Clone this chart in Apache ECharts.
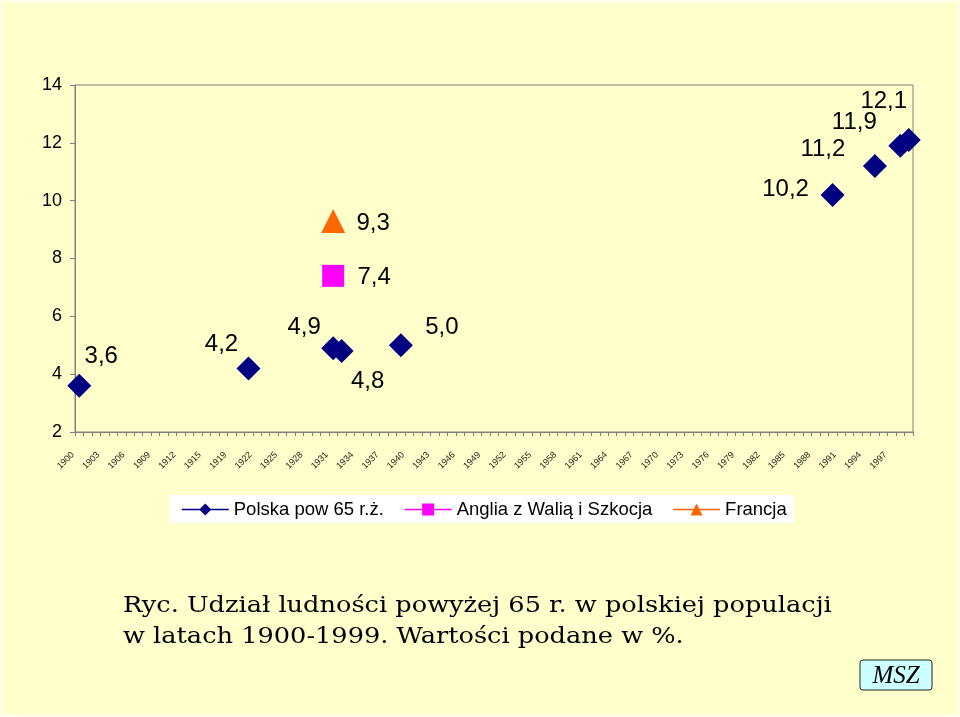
<!DOCTYPE html>
<html>
<head>
<meta charset="utf-8">
<script src="https://cdn.jsdelivr.net/npm/echarts@6/dist/echarts.min.js"></script>
<style>
html,body{margin:0;padding:0;background:#FFFFCC;}
#c{width:960px;height:717px;}
</style>
</head>
<body>
<div id="c"></div>
<script>
const years = ['1900','1901','1902','1903','1904','1905','1906','1907','1908','1909','1910','1911','1912','1913','1914','1915','1916','1917',
'1919','1920','1921','1922','1923','1924','1925','1926','1927','1928','1929','1930','1931','1932','1933','1934','1935','1936','1937','1938','1939',
'1940','1941','1942','1943','1944','1945','1946','1947','1948','1949','1950','1951','1952','1953','1954','1955','1956','1957','1958','1959',
'1960','1961','1962','1963','1964','1965','1966','1967','1968','1969','1970','1971','1972','1973','1974','1975','1976','1977','1978','1979',
'1980','1981','1982','1983','1984','1985','1986','1987','1988','1989','1990','1991','1992','1993','1994','1995','1996','1997','1998','1999'];
const yTicks = [2,4,6,8,10,12,14];

const polskaYears = ['1900','1921','1931','1932','1939','1990','1995','1998','1999'];
const polskaValues = [3.6,4.2,4.9,4.8,5.0,10.2,11.2,11.9,12.1];
const angliaYears = ['1931'];
const angliaValues = [7.4];
const franciaYears = ['1931'];
const franciaValues = [9.3];

// label offsets (style only)
const polskaLabelOffsets = [[22,-29],[-27,-24],[-29,-21],[26,30],[41,-18],[-47,-6],[-52,-17],[-46,-23],[-25,-39]];
const angliaLabelOffsets = [[41,2]];
const franciaLabelOffsets = [[40,2]];

const fmt = v => v.toFixed(1).replace('.', ',');
function mk(ys, vs, offs){
  return ys.map((y,i)=>({
    value:[y, vs[i]],
    label:{show:true, position:'inside', offset:offs[i], formatter: fmt(vs[i]),
      fontFamily:'"Liberation Sans", Arial', fontSize:24, color:'#000'}
  }));
}

const chart = echarts.init(document.getElementById('c'), null, {renderer:'canvas'});
chart.setOption({
  backgroundColor:'#FFFFCC',
  animation:false,
  grid:{left:75, right:47, top:85, bottom:285, show:true, borderColor:'#808080', borderWidth:1, backgroundColor:'#FFFFCC'},
  xAxis:{
    type:'category', data:years, boundaryGap:true,
    axisLine:{lineStyle:{color:'#808080', width:1}},
    axisTick:{show:true, interval:0, length:4, lineStyle:{color:'#808080'}},
    axisLabel:{interval:2, rotate:45, fontSize:9, fontFamily:'"Liberation Sans", Arial', color:'#222', margin:15, padding:[0,9,0,0]}
  },
  yAxis:{
    type:'value', min:2, max:14, interval:2,
    splitLine:{show:false},
    axisLine:{show:true, lineStyle:{color:'#808080', width:1}},
    axisTick:{show:true, length:5, lineStyle:{color:'#808080'}},
    axisLabel:{fontSize:18, fontFamily:'"Liberation Sans", Arial', color:'#000', margin:13,
      formatter: v => yTicks.includes(v) ? String(v) : ''}
  },
  legend:{
    left:170, top:495, padding:[5,7,4,11],
    backgroundColor:'#FFFFFF',
    itemWidth:47, itemHeight:15, itemGap:20,
    textStyle:{fontSize:18.5, fontFamily:'"Liberation Sans", Arial', color:'#000'},
    lineStyle:{width:1.5, opacity:1},
    data:['Polska pow 65 r.ż.','Anglia z Walią i Szkocja','Francja']
  },
  series:[
    {name:'Polska pow 65 r.ż.', type:'line', data:mk(polskaYears, polskaValues, polskaLabelOffsets),
      showAllSymbol:true, symbol:'diamond', symbolSize:24, itemStyle:{color:'#000080'},
      lineStyle:{color:'#000080', width:1.5, opacity:0}},
    {name:'Anglia z Walią i Szkocja', type:'line', data:mk(angliaYears, angliaValues, angliaLabelOffsets),
      showAllSymbol:true, symbol:'rect', symbolSize:22, itemStyle:{color:'#FF00FF'},
      lineStyle:{color:'#FF00FF', width:1.5, opacity:0}},
    {name:'Francja', type:'line', data:mk(franciaYears, franciaValues, franciaLabelOffsets),
      showAllSymbol:true, symbol:'triangle', symbolSize:24, itemStyle:{color:'#FF6600'},
      lineStyle:{color:'#FF6600', width:1.5, opacity:0}}
  ],
  graphic:[
    {type:'rect', shape:{x:1.5, y:1.5, width:957, height:714}, style:{fill:'none', stroke:'#FFFFE6', lineWidth:3}, silent:true},
    {type:'text', x:123, y:591, scaleX:1.165, originX:0, originY:0,
      style:{text:'Ryc. Udział ludności powyżej 65 r. w polskiej populacji\nw latach 1900-1999. Wartości podane w %.',
      font:'22px "DejaVu Serif", serif', fill:'#000', lineHeight:31}},
    {type:'rect', shape:{x:860, y:660, width:72, height:30, r:3}, style:{fill:'#CCFFFF', stroke:'#222', lineWidth:1}},
    {type:'text', x:896, y:676, style:{text:'MSZ', font:'italic 25px "Liberation Serif", serif', fill:'#000', align:'center', verticalAlign:'middle'}}
  ]
});
</script>
</body>
</html>
